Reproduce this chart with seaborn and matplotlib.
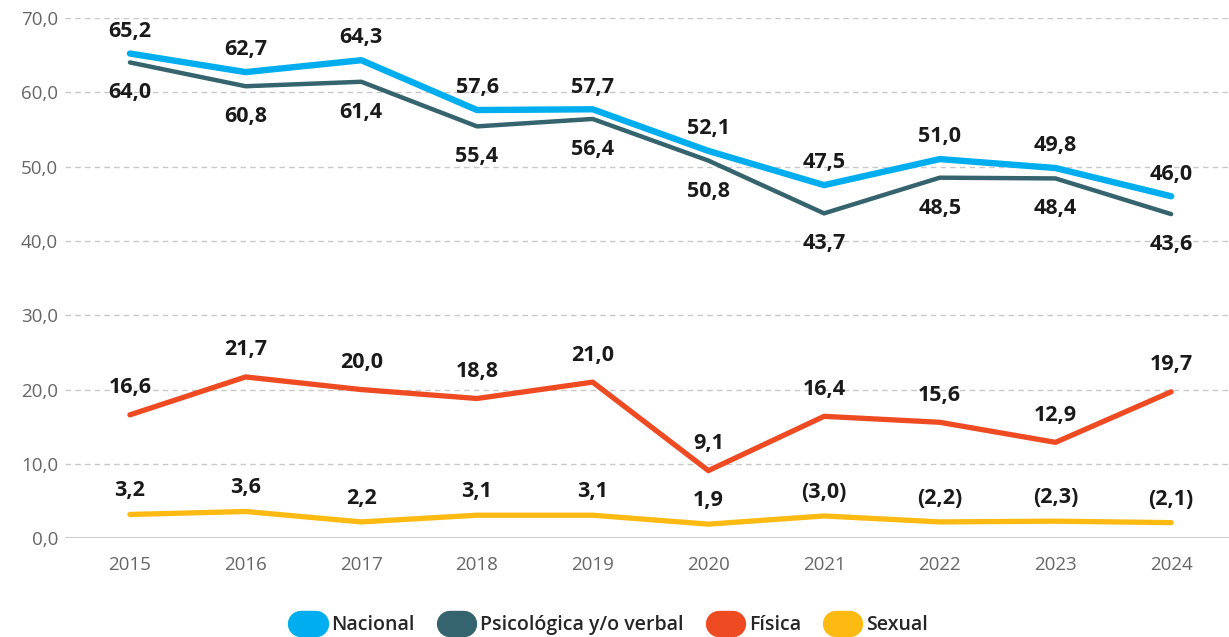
import pandas as pd
import matplotlib.pyplot as plt
import seaborn as sns
from matplotlib.lines import Line2D

years = [2015, 2016, 2017, 2018, 2019, 2020, 2021, 2022, 2023, 2024]
nacional = [65.2, 62.7, 64.3, 57.6, 57.7, 52.1, 47.5, 51.0, 49.8, 46.0]
psicologica = [64.0, 60.8, 61.4, 55.4, 56.4, 50.8, 43.7, 48.5, 48.4, 43.6]
fisica = [16.6, 21.7, 20.0, 18.8, 21.0, 9.1, 16.4, 15.6, 12.9, 19.7]
sexual = [3.2, 3.6, 2.2, 3.1, 3.1, 1.9, 3.0, 2.2, 2.3, 2.1]
# years where the sexual estimate is shown in parentheses
sexual_parens = [2021, 2022, 2023, 2024]

series = ["Nacional", "Psicológica y/o verbal", "Física", "Sexual"]
colors = ["#00AEEF", "#35646F", "#EF4B23", "#FCBA12"]
widths = [4.6, 3.2, 3.8, 3.8]
offsets = [16, -22, 19.5, 17]

df = pd.DataFrame({"year": years, "Nacional": nacional,
                   "Psicológica y/o verbal": psicologica,
                   "Física": fisica, "Sexual": sexual})
long = df.melt(id_vars="year", var_name="serie", value_name="valor")
long["pos"] = long["year"].map({y: i for i, y in enumerate(years)})

sns.set_style("white")
plt.rcParams["font.family"] = ["Open Sans", "DejaVu Sans"]

fig = plt.figure(figsize=(12.29, 6.37), dpi=100)
ax = fig.add_axes([0.053, 0.155, 0.947, 0.817])

for name, col, lw, off in zip(series, colors, widths, offsets):
    sub = long[long["serie"] == name]
    sns.lineplot(data=sub, x="pos", y="valor", color=col, linewidth=lw,
                 ax=ax, legend=False, zorder=3)
    for _, r in sub.iterrows():
        txt = f"{r['valor']:.1f}".replace(".", ",")
        if name == "Sexual" and r["year"] in sexual_parens:
            txt = f"({txt})"
        ax.annotate(txt, (r["pos"], r["valor"]), xytext=(0, off),
                    textcoords="offset points", ha="center", va="center",
                    fontsize=15.5, fontweight="bold", color="#1a1a1a",
                    annotation_clip=False, zorder=4)

ax.set_xlim(-0.56, 9.5)
ax.set_ylim(0, 70)
ax.set_xticks(range(len(years)))
ax.set_xticklabels([str(y) for y in years])
ax.set_yticks(range(0, 71, 10))
ax.set_yticklabels([f"{v:.1f}".replace(".", ",") for v in range(0, 71, 10)])
ax.tick_params(axis="both", length=0, labelsize=13.5, labelcolor="#666666")
ax.tick_params(axis="x", pad=13)
ax.tick_params(axis="y", pad=5)
for v in range(10, 71, 10):
    ax.axhline(v, color="#c8c8c8", linestyle=(0, (4, 3)), linewidth=1, zorder=1)
ax.axhline(0, color="#cccccc", linewidth=1.5, zorder=1)
for s in ax.spines.values():
    s.set_visible(False)
ax.set_xlabel("")
ax.set_ylabel("")

handles = [Line2D([0], [0], color=c, linewidth=19, solid_capstyle="round")
           for c in colors]
leg = fig.legend(handles, series, loc="lower center", bbox_to_anchor=(0.5, -0.025),
                 ncol=4, frameon=False, handlelength=0.75, handletextpad=0.8,
                 columnspacing=1.8, prop={"size": 14, "weight": "semibold"})

fig.savefig("out.png", dpi=100)
